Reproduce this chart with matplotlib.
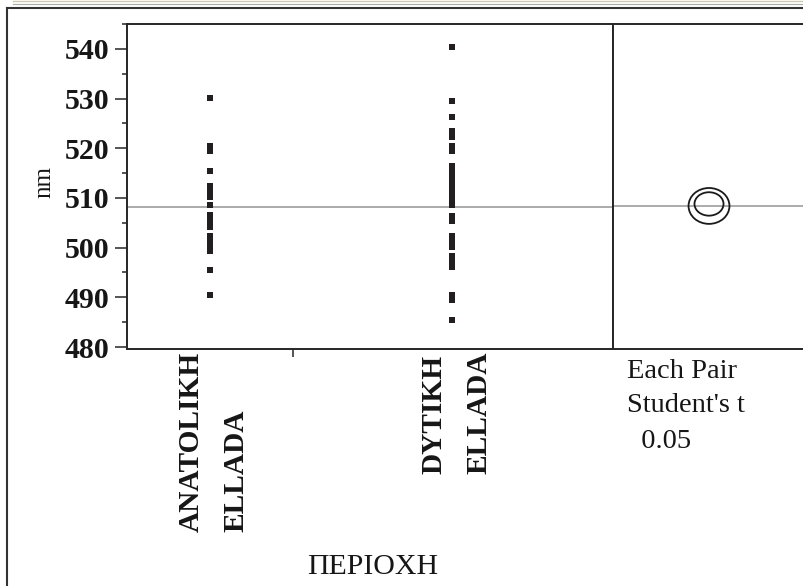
import matplotlib
matplotlib.use("Agg")
import matplotlib.pyplot as plt
import matplotlib.transforms as mtransforms
from matplotlib.patches import Ellipse
from matplotlib.lines import Line2D

# ---- data -------------------------------------------------------------
groups = ["ANATOLIKH\nELLADA", "DYTIKH\nELLADA"]
group_pos = [1.0, 2.0]

east = [530.2, 520.5, 519.4, 515.4, 512.5, 511.4, 510.1, 508.5, 506.5,
        505.3, 504.1, 502.4, 501.3, 500.1, 499.4, 495.4, 490.4]
west = [540.4, 529.6, 526.2, 523.4, 522.3, 520.5, 519.5, 516.5, 515.4,
        514.2, 513.1, 512.0, 510.8, 509.7, 508.5, 506.3, 505.3, 502.4,
        501.3, 500.1, 498.4, 497.3, 496.2, 490.4, 489.4, 485.4]
values = [east, west]

overall_mean = 508.2

# comparison circles (centre = group mean, radius in nm)
circle_centers = [508.3, 508.7]
circle_radius = [3.6, 2.35]

major_ticks = [480, 490, 500, 510, 520, 530, 540]
minor_ticks = [485, 495, 505, 515, 525, 535, 545]
y_label = "nm"
x_label = "ΠΕΡΙΟΧΗ"
test_lines = ["Each Pair", "Student's t", "  0.05"]

# ---- figure -----------------------------------------------------------
W, H = 804, 586
DPI = 100
plt.rcParams["font.family"] = ["Liberation Serif", "DejaVu Serif"]
fig = plt.figure(figsize=(W / DPI, H / DPI), dpi=DPI)
fig.patch.set_facecolor("white")


def box(l, t, r, b):
    return [l / W, 1 - b / H, (r - l) / W, (b - t) / H]


DARK = "#262626"
TEXT = "#161616"
ax = fig.add_axes(box(127, 24, 613, 349))
axr = fig.add_axes(box(613, 24, 830, 349))

ymin, ymax = 479.6, 544.8
for a in (ax, axr):
    a.set_ylim(ymin, ymax)
    for s in a.spines.values():
        s.set_color(DARK)
        s.set_linewidth(1.4)
    a.axhline(overall_mean, color="#959595", lw=1.1, zorder=1)

# ---- points -----------------------------------------------------------
for x, vals in zip(group_pos, values):
    ax.plot([x] * len(vals), vals, linestyle="none", marker="s",
            ms=5.0, mew=0, color="#231f20", zorder=3)

ax.set_xlim(0.66, 2.661)
ax.set_xticks([1.345])
ax.set_xticklabels([])
ax.tick_params(axis="x", length=6, width=1.1, color=DARK, direction="out")

ax.set_yticks(major_ticks)
ax.set_yticks(minor_ticks, minor=True)
ax.tick_params(axis="y", which="major", length=8.5, width=1.1, color=DARK,
               direction="out", pad=4, labelsize=21.5)
ax.tick_params(axis="y", which="minor", length=3.8, width=1.1, color=DARK,
               direction="out")
for lbl in ax.get_yticklabels():
    lbl.set_fontweight("bold")
    lbl.set_color(TEXT)

# category labels, rotated under each column
for x, name in zip(group_pos, groups):
    tr = mtransforms.blended_transform_factory(ax.transData, ax.transAxes) + \
        mtransforms.ScaledTranslation(4 / DPI, -3 / DPI, fig.dpi_scale_trans)
    ax.text(x, 0, name, transform=tr, rotation=90, ha="center", va="top",
            multialignment="left", fontsize=21.2, fontweight="bold",
            linespacing=1.85, color=TEXT)

fig.text(373 / W, 1 - 567 / H, x_label, ha="center", va="center",
         fontsize=21.5, color=TEXT)
fig.text(44 / W, 1 - 182 / H, y_label, ha="center", va="center",
         rotation=90, fontsize=18, color=TEXT)

# ---- comparison circles panel ----------------------------------------
axr.set_xlim(0, 217)
axr.set_xticks([])
axr.set_yticks([])
px_per_nm = 325 / (ymax - ymin)
for c, r, stretch in zip(circle_centers, circle_radius, [1.14, 1.24]):
    e = Ellipse((96, c), width=2 * r * px_per_nm * stretch, height=2 * r,
                fill=False, lw=1.3, edgecolor="#1a1a1a", zorder=3)
    axr.add_patch(e)

for line, yy in zip(test_lines, [372, 406, 441]):
    fig.text(627 / W, 1 - yy / H, line, ha="left", va="center",
             fontsize=20.5, color=TEXT)

# ---- outer frame ------------------------------------------------------
fig.add_artist(Line2D([13 / W, 1], [1 - 0.8 / H] * 2, transform=fig.transFigure,
                      color="#cfc8b2", lw=1.0))
fig.add_artist(Line2D([13 / W, 1], [1 - 4 / H] * 2, transform=fig.transFigure,
                      color="#a9a9a9", lw=0.8))
fig.add_artist(Line2D([7 / W, 7 / W], [1 - 8 / H, 0], transform=fig.transFigure,
                      color="#333333", lw=1.5))
fig.add_artist(Line2D([7 / W, 1], [1 - 8 / H] * 2, transform=fig.transFigure,
                      color="#333333", lw=1.5))

fig.savefig("out.png", dpi=DPI)
